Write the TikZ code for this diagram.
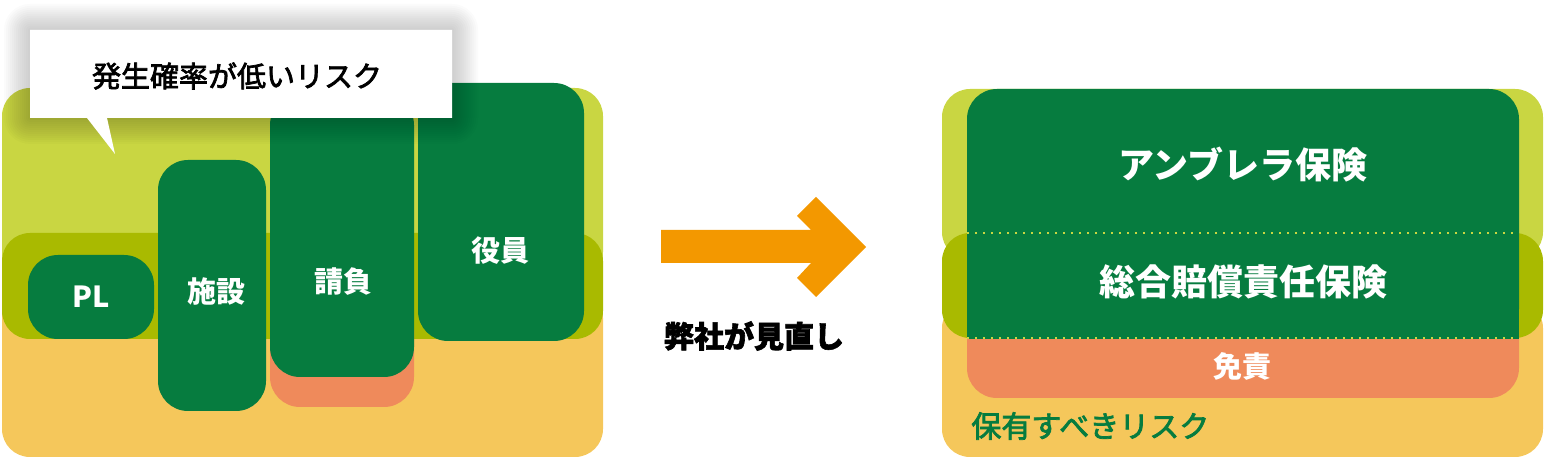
\documentclass[tikz,border=0pt]{standalone}
\usepackage{fontspec}
\setmainfont{Noto Sans CJK JP}
\newfontfamily\jpmed{Noto Sans CJK JP}[FakeBold=2.5]
\newfontfamily\jpheavy{Noto Sans CJK JP}[BoldFeatures={FakeBold=2}]
\usepackage{tikz}

\definecolor{riskLight}{HTML}{C9D642}
\definecolor{riskMid}{HTML}{A9BA00}
\definecolor{riskLow}{HTML}{F5C75B}
\definecolor{coverGreen}{HTML}{067C3F}
\definecolor{gapRed}{HTML}{EF8A5B}
\definecolor{arrowOrange}{HTML}{F39800}

\begin{document}
\begin{tikzpicture}[x=0.5pt, y=-0.5pt,
				band/.style={rounded corners=14pt},
				coverbox/.style={fill=coverGreen, rounded corners=15pt},
				boxlabel/.style={text=white, inner sep=0pt, font=\bfseries\fontsize{14.5}{16}\selectfont},
				biglabel/.style={text=white, inner sep=0pt, font=\bfseries\fontsize{18}{20}\selectfont},
				]
				\useasboundingbox (0,0) rectangle (1544,458);

				%Left bands
				\fill[riskLow, band]	(2,290) rectangle (603,457);
				\fill[riskLight, band]	(2,88) rectangle (603,280);
				\fill[riskMid, band]	(2,233) rectangle (603,339);

				%Left boxes
				\fill[coverbox, fill=gapRed]	(270,300) rectangle (414,407);
				\fill[coverbox]	(28,255) rectangle (154,339);
				\fill[coverbox]	(158,160) rectangle (266,411);
				\fill[coverbox]	(270,95) rectangle (414,377);
				\fill[coverbox]	(418,83) rectangle (584,341);

				%Left labels
				\node[boxlabel]	(pl)	at (91,297)	{PL};
				\node[boxlabel]	(facility)	at (216,291)	{施設};
				\node[boxlabel]	(contract)	at (343,282)	{請負};
				\node[boxlabel]	(officer)	at (500,251)	{役員};

				%Callout
				\foreach \r in {2,4,...,26}
					\fill[black, opacity=0.016, rounded corners=\r*0.5pt]	(30-\r,30-\r) rectangle (452+\r,118+\r);
				\fill[white]	(30,30) -- (452,30) -- (452,118) -- (107,118) -- (115,154) -- (87,118) -- (30,118) -- cycle;
				\node[inner sep=0pt, font=\jpmed\fontsize{14.5}{16}\selectfont]	(callout)	at (237,76)	{発生確率が低いリスク};

				%Arrow
				\fill[arrowOrange]	(661,230) -- (811,230) -- (797,216) -- (816,197) -- (866,247)
					-- (816,297) -- (797,278) -- (811,263) -- (661,263) -- cycle;
				\node[inner sep=0pt, font=\jpheavy\bfseries\fontsize{15}{17}\selectfont]	(review)	at (754,336)	{弊社が見直し};

				%Right bands
				\fill[riskLow, band]	(942,300) rectangle (1543,457);
				\fill[riskLight, band]	(942,89) rectangle (1543,260);
				\fill[riskMid, band]	(942,233) rectangle (1543,338);

				%Right boxes
				\fill[coverbox, fill=gapRed]	(967,300) rectangle (1519,398);
				\fill[coverbox]	(967,89) rectangle (1519,339);
				\fill[coverGreen]	(967,300) rectangle (1519,339);
				\draw[riskLight, line width=1pt, dash pattern=on 1pt off 3pt]	(967,233) -- (1519,233);
				\draw[riskLight, line width=1pt, dash pattern=on 1pt off 3pt]	(967,338.5) -- (1519,338.5);

				%Right labels
				\node[biglabel]	(umbrella)	at (1243,165)	{アンブレラ保険};
				\node[biglabel]	(general)	at (1243,282)	{総合賠償責任保険};
				\node[boxlabel]	(deductible)	at (1242,366)	{免責};
				\node[anchor=west, inner sep=0pt, text=coverGreen, font=\jpmed\fontsize{15}{17}\selectfont]	(retained)	at (971,426)	{保有すべきリスク};
			\end{tikzpicture}
\end{document}
